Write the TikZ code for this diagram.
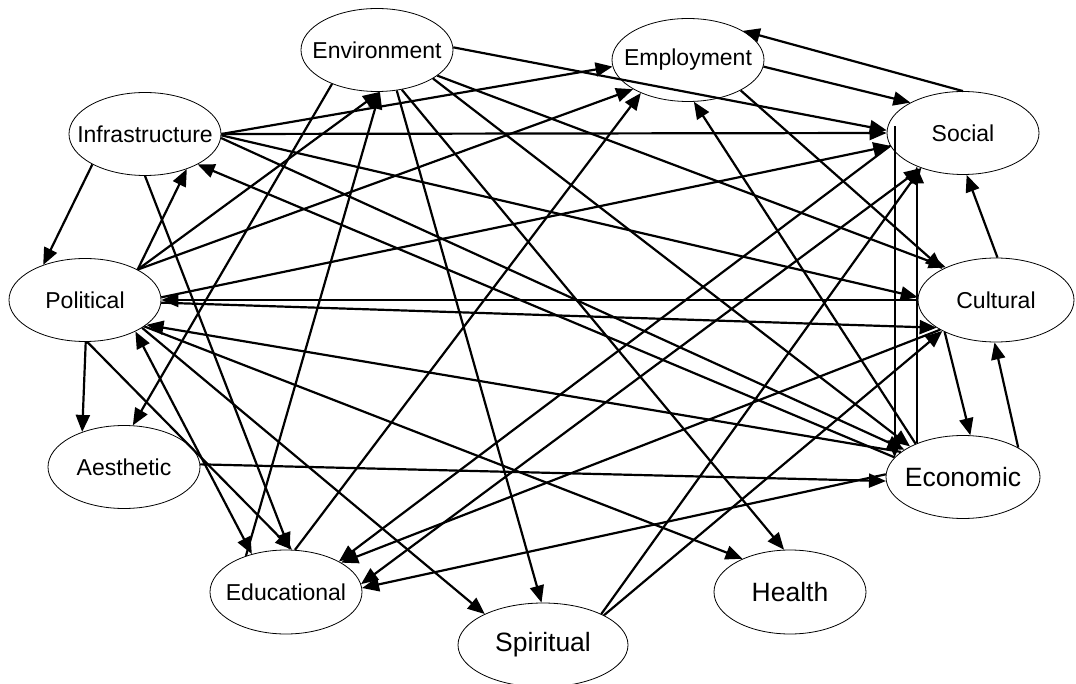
\documentclass[tikz,border=0pt]{standalone}
\usepackage{fontspec}
\setmainfont{Liberation Sans}
\usetikzlibrary{shapes.geometric,arrows.meta}
\begin{document}
\begin{tikzpicture}[x=1pt,y=-1pt,
  ell/.style={draw,ellipse,line width=0.8pt,inner sep=0pt,minimum width=152pt,minimum height=83pt,font=\fontsize{23}{27}\selectfont},
  bigtext/.style={font=\fontsize{26.5}{30}\selectfont},
  arr/.style={line width=2.2pt,-{Triangle[length=17pt,width=14pt]}},
  dbl/.style={line width=2.2pt,{Triangle[length=17pt,width=14pt]}-{Triangle[length=17pt,width=14pt]}}]
\useasboundingbox (0,0) rectangle (1076,684);
\node[ell] (env) at (377,50) {\makebox[0pt]{Environment}};
\node[ell] (emp) at (688,60) {\makebox[0pt]{Employment}};
\node[ell] (infra) at (145,134) {\makebox[0pt]{Infrastructure}};
\node[ell] (soc) at (963,133) {\makebox[0pt]{Social}};
\node[ell] (pol) at (85,300) {\makebox[0pt]{Political}};
\node[ell,minimum width=156pt,minimum height=84pt] (cul) at (996,300) {\makebox[0pt]{Cultural}};
\node[ell] (aes) at (124,467) {\makebox[0pt]{Aesthetic}};
\node[ell,bigtext,minimum width=154pt] (eco) at (963,477) {\makebox[0pt]{Economic}};
\node[ell,minimum height=84pt] (edu) at (286,592) {\makebox[0pt]{Educational}};
\node[ell,bigtext,minimum height=84pt] (hea) at (790,592) {\makebox[0pt]{Health}};
\node[ell,bigtext,minimum width=170pt,minimum height=84pt] (spi) at (543,645) {\makebox[0pt]{Spiritual}};

\draw[arr] (env.2) -- (soc.178);
\draw[arr] (env.-143) -- (aes.78);
\draw[arr] (edu.138) -- (env.-86);
\draw[arr] (env.-64) -- (spi.92);
\draw[arr] (env.-58) -- (hea.98);
\draw[arr] (env.-23) -- (cul.147);
\draw[arr] (env.-27) -- (eco.150);
\draw[arr] (infra.0) -- (emp.185);
\draw[arr] (infra.0) -- (soc.180);
\draw[arr] (infra.-1) -- (cul.178);
\draw[arr] (infra.-3) -- (eco.155);
\draw[arr] (eco.164) -- (infra.-30);
\draw[arr] (infra.-150) -- (pol.140);
\draw[arr] (infra.-90) -- (edu.85);
\draw[arr] (pol.30) -- (infra.-40);
\draw[arr] (pol.30) -- (env.-86);
\draw[arr] (pol.30) -- (emp.-152);
\draw[arr] (pol.2) -- (soc.190);
\draw[arr] (cul.180) -- (pol.0);
\draw[arr] (pol.-2) -- (cul.205);
\draw[arr] (pol.-89) -- (aes.140);
\draw[arr] (pol.-87) -- (edu.82);
\draw[dbl] (pol.-32) -- (edu.132);
\draw[arr] (eco.158) -- (pol.-22);
\draw[arr] (pol.-24) -- (hea.145);
\draw[arr] (pol.-26) -- (spi.152);
\draw[arr] (aes.2) -- (eco.183);
\draw[arr] (edu.78) -- (emp.-145);
\draw[arr] (emp.-5) -- (soc.150);
\draw[arr] (soc.90) -- (emp.28);
\draw[arr] (emp.-30) -- (cul.150);
\draw[arr] (eco.145) -- (emp.-82);
\draw[arr] (eco.164 |- soc.175) -- (eco.164);
\draw[arr] (eco.144) -- (eco.144 |- soc.-144);
\draw[arr] (cul.88) -- (soc.-85);
\draw[arr] (cul.-148) -- (eco.80);
\draw[arr] (eco.28) -- (cul.-92);
\draw[arr] (spi.28) -- (soc.-140);
\draw[arr] (spi.26) -- (cul.-150);
\draw[arr] (soc.190) -- (edu.30);
\draw[dbl] (edu.6) -- (soc.-140);
\draw[arr] (cul.-152) -- (edu.28);
\draw[arr] (eco.178) -- (edu.3);
\end{tikzpicture}
\end{document}
